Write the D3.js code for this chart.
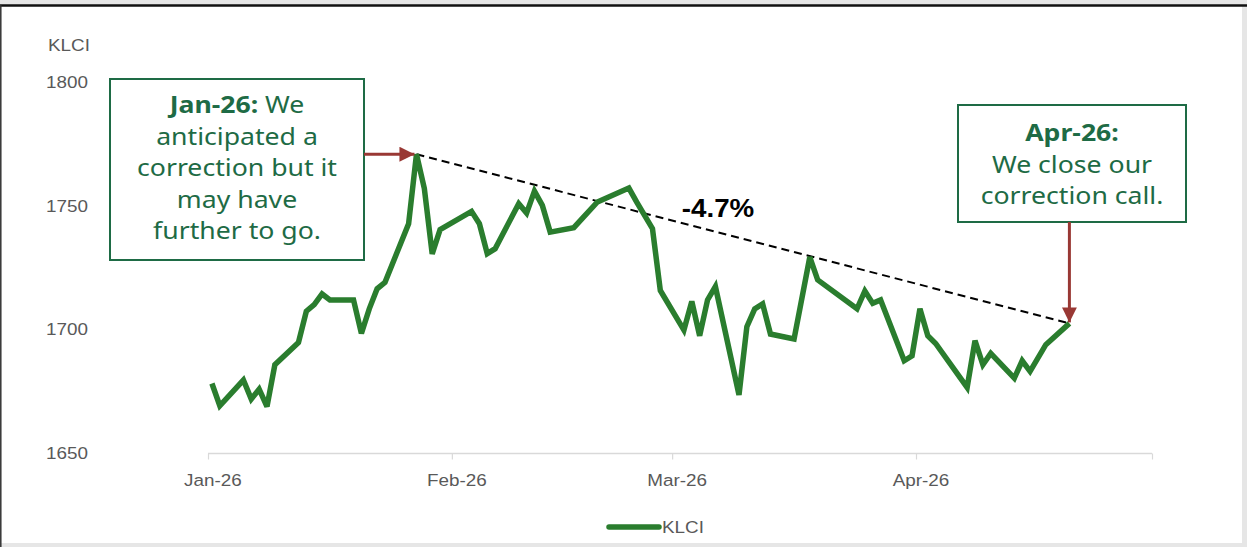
<!DOCTYPE html>
<html>
<head>
<meta charset="utf-8">
<script src="https://cdn.jsdelivr.net/npm/d3@7/dist/d3.min.js"></script>
<style>
  html, body { margin: 0; padding: 0; background: #ffffff; }
  svg { display: block; }
</style>
</head>
<body>
<svg id="chart" width="1247" height="547"></svg>
<script>
// KLCI daily closes, Jan–Apr 2026
const dates = [
  "2026-01-01","2026-01-02","2026-01-05","2026-01-06","2026-01-07","2026-01-08","2026-01-09",
  "2026-01-12","2026-01-13","2026-01-14","2026-01-15","2026-01-16",
  "2026-01-19","2026-01-20","2026-01-21","2026-01-22","2026-01-23",
  "2026-01-26","2026-01-27","2026-01-28","2026-01-29","2026-01-30",
  "2026-02-03","2026-02-04","2026-02-05","2026-02-06",
  "2026-02-09","2026-02-10","2026-02-11","2026-02-12","2026-02-13",
  "2026-02-16","2026-02-19","2026-02-23","2026-02-24","2026-02-26","2026-02-27",
  "2026-03-02","2026-03-03","2026-03-04","2026-03-05","2026-03-06",
  "2026-03-09","2026-03-10","2026-03-11","2026-03-12","2026-03-13",
  "2026-03-16","2026-03-18","2026-03-19","2026-03-24","2026-03-25","2026-03-26","2026-03-27",
  "2026-03-30","2026-03-31","2026-04-01","2026-04-02","2026-04-03",
  "2026-04-07","2026-04-08","2026-04-09","2026-04-10",
  "2026-04-13","2026-04-14","2026-04-15","2026-04-17","2026-04-20"
];
const klci = [
  1678.1,1669.1,1679.5,1671.8,1675.8,1668.8,1685.7,
  1694.7,1707.3,1710.0,1714.3,1711.9,
  1711.9,1698.4,1708.3,1716.4,1719.0,
  1742.7,1770.8,1757.0,1730.5,1740.3,
  1747.7,1742.7,1730.6,1732.6,
  1750.8,1747.0,1755.9,1750.1,1739.3,
  1741.1,1751.5,1757.1,1751.4,1740.7,1715.7,
  1699.7,1711.3,1697.4,1711.9,1717.3,
  1673.5,1701.1,1708.3,1710.3,1698.1,
  1696.1,1729.2,1720.0,1708.3,1715.5,1710.5,1711.9,
  1687.3,1689.3,1708.3,1697.4,1694.3,
  1676.5,1695.4,1685.7,1690.3,
  1680.3,1687.3,1683.0,1693.8,1702.4
];
const yTicks = [1650, 1700, 1750, 1800];
const monthTicks = ["2026-01-01","2026-02-01","2026-03-01","2026-04-01","2026-05-01"];
const xDomain = ["2026-01-01","2026-05-01"];
const seriesName = "KLCI";
const changeLabel = "-4.7%";
const noteStart = { head: "Jan-26:", lines: [" We", "anticipated a", "correction but it", "may have", "further to go."] };
const noteEnd = { head: "Apr-26:", lines: ["We close our", "correction call."] };

const parse = d3.timeParse("%Y-%m-%d");
// each trading day sits in the middle of its day slot
const mid = s => d3.timeHour.offset(parse(s), 12);
const data = dates.map((d, i) => ({ date: mid(d), value: klci[i] }));

const LINE_GREEN = "#2a7d2e";
const NOTE_GREEN = "#1e6b45";
const ARROW_RED = "#993834";
const AXIS_GREY = "#595959";
const WIDE = "scale(1.11,1)";   // text in this layout is set slightly wide
const axisFont = "'Liberation Sans', Arial, sans-serif";

const svg = d3.select("#chart");

// page frame
svg.append("rect").attr("x", 0).attr("y", 0).attr("width", 1247).attr("height", 547).attr("fill", "#e6e6e6");
svg.append("rect").attr("x", 1).attr("y", 5).attr("width", 1241).attr("height", 538).attr("fill", "#ffffff");
svg.append("line").attr("x1", 0).attr("x2", 1247).attr("y1", 5.5).attr("y2", 5.5).attr("stroke", "#111").attr("stroke-width", 2.5);
svg.append("line").attr("x1", 0.8).attr("x2", 0.8).attr("y1", 5).attr("y2", 547).attr("stroke", "#333").attr("stroke-width", 1.5);

const x = d3.scaleTime().domain(xDomain.map(parse)).range([208, 1152]);
const y = d3.scaleLinear().domain([1650, 1800]).range([453, 82]);

// y axis: labels only
const yAxis = svg.append("g")
  .attr("transform", "translate(88,0)")
  .call(d3.axisLeft(y).tickValues(yTicks).tickSize(0).tickPadding(0).tickFormat(d3.format("d")));
yAxis.select(".domain").remove();
yAxis.selectAll("text")
  .attr("font-family", axisFont).attr("font-size", 17).attr("fill", AXIS_GREY)
  .attr("transform", WIDE);

svg.append("g").attr("transform", "translate(48,51) " + WIDE)
  .append("text").attr("font-family", axisFont)
  .attr("font-size", 17).attr("fill", AXIS_GREY).text(seriesName);

// x axis with month ticks
const fmt = d3.timeFormat("%b-%y");
const xAxis = svg.append("g")
  .attr("transform", "translate(0,453.5)")
  .call(d3.axisBottom(x)
    .tickValues(monthTicks.map(parse))
    .tickSize(6).tickPadding(14)
    .tickFormat((d, i) => i < monthTicks.length - 1 ? fmt(d) : ""));
xAxis.select(".domain").attr("stroke", "#d9d9d9").attr("stroke-width", 1.5).attr("d", "M208,0H1152");
xAxis.selectAll(".tick line").attr("stroke", "#d9d9d9").attr("stroke-width", 1.2);
xAxis.selectAll("text")
  .attr("font-family", axisFont).attr("font-size", 17).attr("fill", AXIS_GREY)
  .attr("x", 4).attr("transform", WIDE);

// dashed trend from the January high to the latest close
const peak = data.reduce((a, b) => (b.value > a.value ? b : a));
const last = data[data.length - 1];
svg.append("line")
  .attr("x1", x(peak.date)).attr("y1", y(peak.value))
  .attr("x2", x(last.date)).attr("y2", y(last.value))
  .attr("stroke", "#000").attr("stroke-width", 2).attr("stroke-dasharray", "8,5");

// KLCI line
svg.append("path").datum(data)
  .attr("fill", "none").attr("stroke", LINE_GREEN).attr("stroke-width", 5.5)
  .attr("stroke-linejoin", "miter").attr("stroke-miterlimit", 3).attr("stroke-linecap", "butt")
  .attr("d", d3.line().x(d => x(d.date)).y(d => y(d.value)));

svg.append("g").attr("transform", "translate(718,217) " + WIDE)
  .append("text").attr("text-anchor", "middle")
  .attr("font-family", axisFont).attr("font-weight", "bold")
  .attr("font-size", 25).attr("fill", "#000").text(changeLabel);

// arrowheads
const defs = svg.append("defs");
defs.append("marker").attr("id", "arrowhead")
  .attr("viewBox", "0 0 10 10").attr("refX", 10).attr("refY", 5)
  .attr("markerWidth", 5).attr("markerHeight", 5).attr("markerUnits", "strokeWidth")
  .attr("orient", "auto")
  .append("path").attr("d", "M0,0L10,5L0,10Z").attr("fill", ARROW_RED);

const noteFont = "'Noto Sans', 'Open Sans', sans-serif";

// note on the January high
const b1 = { x: 110, y: 79, w: 254, h: 181 };
svg.append("rect").attr("x", b1.x).attr("y", b1.y).attr("width", b1.w).attr("height", b1.h)
  .attr("fill", "#fff").attr("stroke", NOTE_GREEN).attr("stroke-width", 2);
const t1 = svg.append("g").attr("transform", `translate(${b1.x + b1.w / 2},0) ${WIDE}`)
  .append("text").attr("text-anchor", "middle")
  .attr("font-family", noteFont).attr("font-size", 24).attr("fill", NOTE_GREEN);
const l1 = t1.append("tspan").attr("x", 0).attr("y", 113.5);
l1.append("tspan").attr("font-weight", "bold").text(noteStart.head);
l1.append("tspan").text(noteStart.lines[0]);
noteStart.lines.slice(1).forEach((s, i) => {
  t1.append("tspan").attr("x", 0).attr("y", 113.5 + (i + 1) * 31.5).text(s);
});
svg.append("line")
  .attr("x1", b1.x + b1.w).attr("y1", y(peak.value))
  .attr("x2", x(peak.date) - 2).attr("y2", y(peak.value))
  .attr("stroke", ARROW_RED).attr("stroke-width", 3).attr("marker-end", "url(#arrowhead)");

// note on the latest close
const b2 = { x: 958, y: 105, w: 228, h: 117 };
svg.append("rect").attr("x", b2.x).attr("y", b2.y).attr("width", b2.w).attr("height", b2.h)
  .attr("fill", "#fff").attr("stroke", NOTE_GREEN).attr("stroke-width", 2);
const t2 = svg.append("g").attr("transform", `translate(${b2.x + b2.w / 2},0) ${WIDE}`)
  .append("text").attr("text-anchor", "middle")
  .attr("font-family", noteFont).attr("font-size", 24).attr("fill", NOTE_GREEN);
t2.append("tspan").attr("x", 0).attr("y", 141.5).attr("font-weight", "bold").text(noteEnd.head);
noteEnd.lines.forEach((s, i) => {
  t2.append("tspan").attr("x", 0).attr("y", 141.5 + (i + 1) * 31.5).text(s);
});
svg.append("line")
  .attr("x1", x(last.date)).attr("y1", b2.y + b2.h)
  .attr("x2", x(last.date)).attr("y2", y(last.value) - 1)
  .attr("stroke", ARROW_RED).attr("stroke-width", 3).attr("marker-end", "url(#arrowhead)");

// legend
svg.append("line").attr("x1", 609).attr("x2", 659).attr("y1", 527).attr("y2", 527)
  .attr("stroke", LINE_GREEN).attr("stroke-width", 5.5).attr("stroke-linecap", "round");
svg.append("g").attr("transform", "translate(662,533) " + WIDE)
  .append("text").attr("font-family", axisFont)
  .attr("font-size", 17).attr("fill", AXIS_GREY).text(seriesName);
</script>
</body>
</html>
